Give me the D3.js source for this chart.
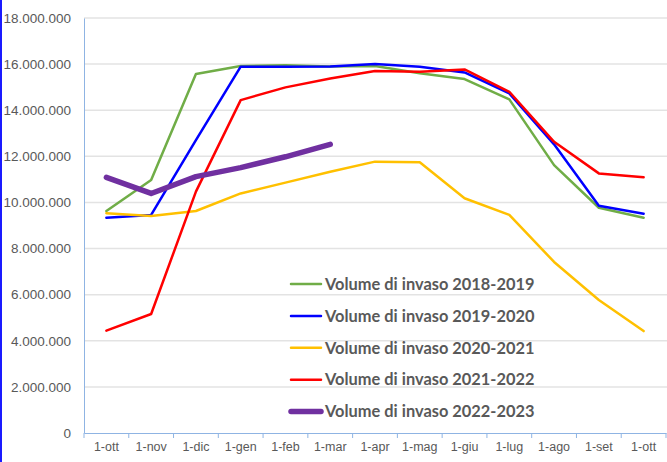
<!DOCTYPE html>
<html>
<head>
<meta charset="utf-8">
<script src="https://cdn.jsdelivr.net/npm/d3@7"></script>
<style>
  body { margin: 0; background: #fff; }
  svg { display: block; font-family: Lato, "Open Sans", sans-serif; }
</style>
</head>
<body>
<div id="idChart"></div>
<script>
// categories (months)
var asMonths = ["1-ott", "1-nov", "1-dic", "1-gen", "1-feb", "1-mar", "1-apr",
                "1-mag", "1-giu", "1-lug", "1-ago", "1-set", "1-ott "];

var asSeries = ["Volume di invaso 2018-2019", "Volume di invaso 2019-2020",
                "Volume di invaso 2020-2021", "Volume di invaso 2021-2022",
                "Volume di invaso 2022-2023"];

// values
var aiVol1819 = [9630000, 10970000, 15570000, 15920000, 15950000, 15900000, 15920000,
                 15600000, 15350000, 14470000, 11620000, 9770000, 9340000];
var aiVol1920 = [9340000, 9460000, 12700000, 15890000, 15890000, 15900000, 16000000,
                 15890000, 15640000, 14730000, 12520000, 9860000, 9510000];
var aiVol2021 = [9530000, 9410000, 9630000, 10390000, 10860000, 11330000, 11770000,
                 11740000, 10180000, 9460000, 7420000, 5770000, 4420000];
var aiVol2122 = [4440000, 5160000, 10470000, 14440000, 14990000, 15380000, 15700000,
                 15670000, 15770000, 14800000, 12630000, 11260000, 11090000];
var aiVol2223 = [11090000, 10390000, 11120000, 11510000, 11980000, 12520000];

var aiTicks = [0, 2000000, 4000000, 6000000, 8000000, 10000000, 12000000,
               14000000, 16000000, 18000000];

var gaSeries = [aiVol1819, aiVol1920, aiVol2021, aiVol2122, aiVol2223];
var asColors = ["#70AD47", "#0000FF", "#FFC000", "#FF0000", "#7030A0"];
var aiWidths = [2.5, 2.5, 2.5, 2.5, 5.5];

function drawChart()
{
    var iWidth = 667, iHeight = 462;
    var iLeft = 84, iRight = 666, iTop = 18, iBottom = 433;

    var svg = d3.select("#idChart").append("svg")
        .attr("width", iWidth).attr("height", iHeight);

    // blue frame edge on the left
    svg.append("rect").attr("x", 0).attr("y", 0).attr("width", 2).attr("height", iHeight)
        .attr("fill", "#1a1aff");

    var x = d3.scaleBand().domain(asMonths).range([iLeft, iRight]).padding(0);
    var y = d3.scaleLinear().domain([0, 18000000]).range([iBottom, iTop]);

    var itFormat = d3.formatLocale({decimal: ",", thousands: ".", grouping: [3], currency: ["", "€"]}).format(",d");

    // gridlines
    svg.append("g").selectAll("line")
        .data(aiTicks.slice(1))
        .enter().append("line")
        .attr("x1", iLeft).attr("x2", iWidth)
        .attr("y1", function(d) { return y(d); })
        .attr("y2", function(d) { return y(d); })
        .attr("stroke", "#e3e3e3").attr("stroke-width", 1.5);

    // y axis
    var yAxis = d3.axisLeft(y).tickValues(aiTicks).tickSize(0).tickPadding(13).tickFormat(itFormat);
    var gY = svg.append("g").attr("transform", "translate(" + iLeft + ",0)").call(yAxis);
    gY.select(".domain").attr("stroke", "#8fb4e3").attr("stroke-width", 1);
    gY.selectAll("text").attr("fill", "#595959").style("font-size", "13.5px");

    // x axis
    var xAxis = d3.axisBottom(x).tickSize(0).tickPadding(9);
    var gX = svg.append("g").attr("transform", "translate(0," + iBottom + ")").call(xAxis);
    gX.select(".domain").attr("stroke", "#8fb4e3").attr("stroke-width", 1.2);
    gX.selectAll("text").attr("fill", "#595959").style("font-size", "12.5px");
    // tick marks on band edges
    gX.selectAll(".edge")
        .data(asMonths.concat(["end"]))
        .enter().append("line")
        .attr("class", "edge")
        .attr("x1", function(d, i) { return iLeft + i * x.bandwidth(); })
        .attr("x2", function(d, i) { return iLeft + i * x.bandwidth(); })
        .attr("y1", 0).attr("y2", 5)
        .attr("stroke", "#8fb4e3").attr("stroke-width", 1);

    var valueLine = d3.line()
        .x(function(d, i) { return x(asMonths[i]) + x.bandwidth() / 2; })
        .y(function(d) { return y(d); });

    gaSeries.forEach(function(aSer, i) {
        svg.append("path")
            .attr("d", valueLine(aSer))
            .attr("fill", "none")
            .attr("stroke", asColors[i])
            .attr("stroke-width", aiWidths[i])
            .attr("stroke-linejoin", "round")
            .attr("stroke-linecap", "round");
    });

    // legend
    var legend = svg.append("g").attr("transform", "translate(291,284)");
    asSeries.forEach(function(s, i) {
        var g = legend.append("g").attr("transform", "translate(0," + (i * 31.9) + ")");
        g.append("line").attr("x1", 0).attr("x2", 30).attr("y1", 0).attr("y2", 0)
            .attr("stroke", asColors[i]).attr("stroke-width", aiWidths[i])
            .attr("stroke-linecap", "round");
        g.append("text").attr("x", 34).attr("y", 0).attr("dy", "0.35em")
            .attr("fill", "#595959").style("font-size", "16.4px").style("font-weight", "bold")
            .text(s);
    });
}

drawChart();
</script>
</body>
</html>
